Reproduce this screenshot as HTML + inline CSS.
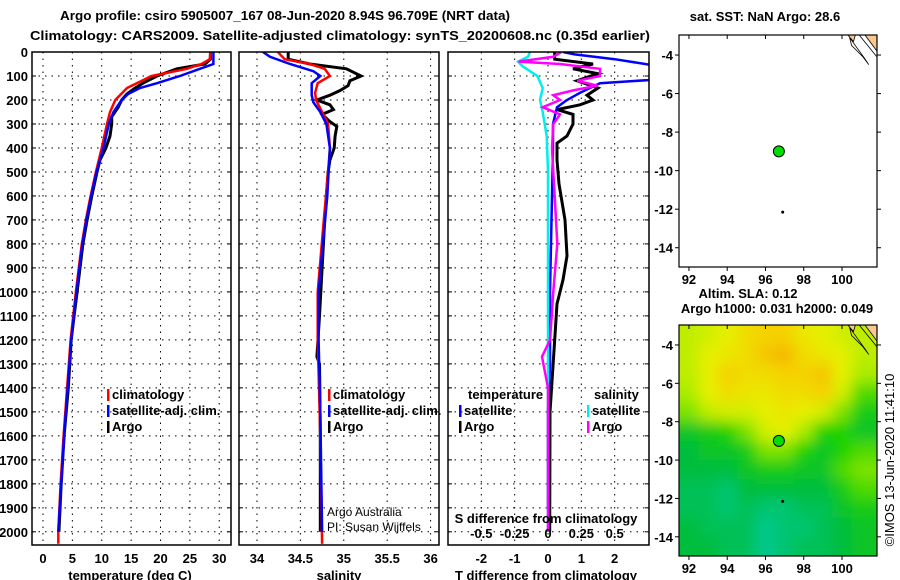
<!DOCTYPE html>
<html><head><meta charset="utf-8"><style>
body{margin:0;background:#fff}
svg{display:block;font-family:"Liberation Sans",sans-serif}
text{font-weight:bold;font-size:13px}
</style></head><body>
<svg id="s" width="900" height="580" viewBox="0 0 900 580" xmlns="http://www.w3.org/2000/svg">
<text x="60" y="20" textLength="450" lengthAdjust="spacingAndGlyphs" font-size="14">Argo profile: csiro 5905007_167 08-Jun-2020 8.94S 96.709E (NRT data)</text>
<text x="30" y="40" textLength="620" lengthAdjust="spacingAndGlyphs" font-size="14">Climatology: CARS2009. Satellite-adjusted climatology: synTS_20200608.nc (0.35d earlier)</text>
<text x="765" y="21" text-anchor="middle">sat. SST: NaN Argo: 28.6</text>
<text x="748" y="298" text-anchor="middle">Altim. SLA: 0.12</text>
<text x="777" y="313" text-anchor="middle">Argo h1000: 0.031 h2000: 0.049</text>
<text transform="translate(894,460) rotate(-90)" text-anchor="middle" style="font-weight:normal">©IMOS 13-Jun-2020 11:41:10</text>
</svg>
<script>
// ---------- data ----------
const depthTicks=[0,100,200,300,400,500,600,700,800,900,1000,1100,1200,1300,1400,1500,1600,1700,1800,1900,2000];
const tempTicks=[0,5,10,15,20,25,30];
const salTicks=[34,34.5,35,35.5,36];
const salTickLabels=["34","34.5","35","35.5","36"];
const tdTicks=[-2,-1,0,1,2];
const sdTicks=[-0.5,-0.25,0,0.25,0.5];
const sdTickLabels=["-0.5","-0.25","0","0.25","0.5"];

const argoTD=[0,30,50,70,100,130,150,175,200,230,270,300,350,400,450,500,600,700,800,900,1000,1100,1200,1400,1600,1800,2000];
const argoT=[28.5,28.5,27.6,22.8,19.4,17,15.7,14.3,13.4,12.8,11.7,11.7,11.4,10.7,9.7,9.2,8.3,7.5,6.8,6.3,5.8,5.3,4.8,4.3,3.6,3.1,2.7];
const climTD=[0,30,50,70,100,150,200,250,300,400,500,600,700,800,900,1000,1200,1400,1600,1800,2000,2050];
const climT=[28.5,28.4,27,24.5,18.5,14.3,12.3,11.4,10.9,10,9,8.1,7.3,6.6,6.1,5.6,4.7,4.1,3.5,3,2.6,2.6];
const satTD=[0,50,70,100,130,150,175,200,250,300,400,500,600,700,800,900,1000,1200,1400,1600,1800,2000];
const satT=[29,29,26.7,23.3,19.4,16.5,14.5,13.4,12,11.2,10.3,9.1,8.2,7.4,6.7,6.2,5.7,4.8,4.2,3.6,3.1,2.6];

const argoSD=[0,30,50,70,100,120,140,160,180,200,220,240,260,290,310,350,400,450,500,700,900,1100,1270,1300,1600,2000];
const argoS=[34.36,34.36,34.61,35.03,35.2,35.07,35.05,34.96,34.84,34.69,34.84,34.88,34.75,34.84,34.92,34.9,34.89,34.84,34.82,34.78,34.75,34.72,34.69,34.72,34.73,34.73];
const climSD=[0,30,50,70,100,130,170,200,250,300,400,500,700,1000,1200,1600,2050];
const climS=[34.24,34.32,34.61,34.78,34.84,34.7,34.67,34.68,34.75,34.82,34.84,34.82,34.77,34.7,34.7,34.73,34.75];
const satSD=[0,20,50,80,100,130,180,210,250,300,400,600,800,1000,1200,1500,2000];
const satS=[34.07,34.15,34.38,34.65,34.73,34.63,34.63,34.65,34.73,34.8,34.84,34.81,34.76,34.71,34.71,34.73,34.75];

const tdArgoD=[0,30,50,70,90,120,150,180,200,220,240,260,300,350,380,450,550,700,850,950,1050,1200,1500,2000];
const tdArgo=[0.2,0.2,1.35,0.75,1.5,0.87,1.5,1.17,1.35,0.96,0.27,0.75,0.75,0.57,0.27,0.27,0.33,0.51,0.57,0.45,0.27,0.2,0.06,0.05];
const tdSatD=[0,10,30,54,70,90,117,130,170,200,230,300,400,600,1000,1300,1500,1900];
const tdSat=[0.45,0.8,2,3.1,4,4,3,1.56,0.96,0.57,0.27,0.15,0.15,0.12,0.06,0.06,0,0];
const sdSatD=[0,20,40,60,100,150,200,250,350,500,1000,2000];
const sdSat=[-0.135,-0.15,-0.225,-0.19,-0.08,-0.04,-0.06,-0.04,-0.01,0,0,0];
const sdArgoD=[0,20,40,50,70,100,120,140,160,180,200,230,260,300,400,500,600,800,1000,1200,1270,1400,2000];
const sdArgo=[0.1,0.04,-0.22,0.09,0.39,0.39,0.22,0.37,0.19,0.04,0.09,-0.04,0.09,0.04,0.03,0.04,0.05,0.07,0.04,0.015,-0.045,0,0];

const mapLonTicks=[92,94,96,98,100];
const mapLatTicks=[-4,-6,-8,-10,-12,-14];
const slaLons=[92,93,94,95,96,97,98,99,100,101];
const slaLats=[-3.5,-4.5,-5.5,-6.5,-7.5,-8.5,-9.5,-10.5,-11.5,-12.5,-13.5,-14.5];
const slaGrid=[
[0.12,0.13,0.14,0.16,0.17,0.17,0.15,0.14,0.13,0.12],
[0.12,0.14,0.15,0.16,0.18,0.19,0.16,0.15,0.14,0.12],
[0.12,0.14,0.17,0.16,0.16,0.17,0.17,0.18,0.14,0.11],
[0.11,0.14,0.16,0.15,0.15,0.16,0.16,0.17,0.13,0.09],
[0.10,0.12,0.13,0.13,0.14,0.15,0.14,0.13,0.10,0.07],
[0.06,0.07,0.08,0.10,0.13,0.14,0.11,0.08,0.08,0.06],
[0.05,0.06,0.06,0.07,0.10,0.10,0.08,0.06,0.08,0.09],
[0.05,0.05,0.05,0.06,0.07,0.07,0.06,0.06,0.09,0.10],
[0.04,0.04,0.03,0.05,0.05,0.05,0.05,0.05,0.07,0.09],
[0.04,0.04,0.03,0.04,0.03,0.03,0.04,0.04,0.06,0.07],
[0.05,0.04,0.04,0.04,0.02,0.03,0.03,0.04,0.05,0.06],
[0.05,0.05,0.04,0.04,0.02,0.03,0.04,0.04,0.05,0.06]];
const floatPos=[96.7,-9];
const prevPos=[96.9,-12.15];

// ---------- drawing ----------
const NS="http://www.w3.org/2000/svg";
const svg=document.getElementById('s');
function el(t,a,p){const e=document.createElementNS(NS,t);for(const k in a)e.setAttribute(k,a[k]);(p||svg).appendChild(e);return e;}
const Y0=52,Y1=545,DMAX=2055;
const yD=d=>Y0+d*(Y1-Y0)/DMAX;
function lin(a,b,p,q){return v=>p+(v-a)*(q-p)/(b-a);}
const panels=[
 {x0:32,x1:231,name:'temperature-panel',x:lin(-1.87,32,32,231)},
 {x0:239,x1:439,name:'salinity-panel',x:lin(33.793,36.097,239,439)},
 {x0:448,x1:649,name:'difference-panel',x:lin(-3,3.03,448,649)}];
const xS2=lin(-0.75,0.7575,448,649);

panels.forEach((P,i)=>{
 const g=el('g',{});
 
 
 const cp=el('clipPath',{id:'c'+i},g);el('rect',{x:P.x0,y:Y0,width:P.x1-P.x0,height:Y1-Y0},cp);
 P.g=g;
 depthTicks.forEach(d=>{if(d>0){const l=el('line',{x1:P.x0,x2:P.x1,y1:yD(d),y2:yD(d),stroke:'#000','stroke-dasharray':'1.5,5'},g);}
  el('line',{x1:P.x0,x2:P.x0+4,y1:yD(d),y2:yD(d),stroke:'#000'},g);el('line',{x1:P.x1,x2:P.x1-4,y1:yD(d),y2:yD(d),stroke:'#000'},g);});
});
function vgrid(P,vals,fx){vals.forEach(v=>{const x=fx(v);const l=el('line',{x1:x,x2:x,y1:Y0,y2:Y1,stroke:'#000','stroke-dasharray':'1.5,5'},P.g);});}
vgrid(panels[0],tempTicks,panels[0].x);vgrid(panels[1],salTicks,panels[1].x);vgrid(panels[2],tdTicks,panels[2].x);
depthTicks.forEach(d=>{const t=el('text',{x:28,y:yD(d)+5,'text-anchor':'end'});t.textContent=d;});
function xlab(vals,labs,fx,y,name){vals.forEach((v,k)=>{const t=el('text',{x:fx(v),y:y,'text-anchor':'middle'});t.textContent=labs?labs[k]:v;});}
xlab(tempTicks,null,panels[0].x,563,'temperature-tick-label');
xlab(salTicks,salTickLabels,panels[1].x,563,'salinity-tick-label');
xlab(tdTicks,null,panels[2].x,563,'t-diff-tick-label');
xlab(sdTicks,sdTickLabels,xS2,538,'s-diff-tick-label');
[['temperature (deg C)',130,'temperature-axis-title'],['salinity',339,'salinity-axis-title'],['T difference from climatology',546,'t-diff-axis-title']].forEach(a=>{const t=el('text',{x:a[1],y:580,'text-anchor':'middle'});t.textContent=a[0];});
{const t=el('text',{x:546,y:523,'text-anchor':'middle'});t.textContent='S difference from climatology';}

function line(P,i,D,V,fx,col,name,w){
 const pts=D.map((d,k)=>fx(V[k]).toFixed(1)+','+yD(d).toFixed(1)).join(' ');
 const l=el('polyline',{points:pts,fill:'none',stroke:col,'stroke-width':w||2.5,'clip-path':'url(#c'+i+')'},P.g);
 }
line(panels[0],0,argoTD,argoT,panels[0].x,'#000','argo-temperature-line',3);
line(panels[0],0,climTD,climT,panels[0].x,'#f00','climatology-temperature-line');
line(panels[0],0,satTD,satT,panels[0].x,'#00f','satellite-temperature-line');
line(panels[1],1,argoSD,argoS,panels[1].x,'#000','argo-salinity-line',3);
line(panels[1],1,climSD,climS,panels[1].x,'#f00','climatology-salinity-line');
line(panels[1],1,satSD,satS,panels[1].x,'#00f','satellite-salinity-line');
line(panels[2],2,tdArgoD,tdArgo,panels[2].x,'#000','argo-t-diff-line',3);
line(panels[2],2,tdSatD,tdSat,panels[2].x,'#00f','satellite-t-diff-line');
line(panels[2],2,sdSatD,sdSat,xS2,'#0ee','satellite-s-diff-line');
line(panels[2],2,sdArgoD,sdArgo,xS2,'#f0f','argo-s-diff-line');
panels.forEach(P=>{const r=el('rect',{x:P.x0,y:Y0,width:P.x1-P.x0,height:Y1-Y0,fill:'none',stroke:'#000','stroke-width':1.5},P.g);});

function leg(x,y,col,txt,name){const r=el('rect',{x:x,y:y-10,width:2.5,height:12,fill:col});const t=el('text',{x:x+5,y:y});t.textContent=txt;}
[[107,'#f00','climatology'],[107,'#00f','satellite-adj. clim.'],[107,'#000','Argo']].forEach((a,k)=>leg(a[0],399+k*16,a[1],a[2],'temp-legend-entry'));
[[328,'#f00','climatology'],[328,'#00f','satellite-adj. clim.'],[328,'#000','Argo']].forEach((a,k)=>leg(a[0],399+k*16,a[1],a[2],'sal-legend-entry'));
{const t=el('text',{x:468,y:399});t.textContent='temperature';
 const u=el('text',{x:594,y:399});u.textContent='salinity';}
leg(459,415,'#00f','satellite','tdiff-legend-entry');leg(459,431,'#000','Argo','tdiff-legend-entry');
leg(587,415,'#0ee','satellite','sdiff-legend-entry');leg(587,431,'#f0f','Argo','sdiff-legend-entry');
{const a=el('text',{x:327,y:516,style:'font-weight:normal;font-size:12px'});a.textContent='Argo Australia';
 const b=el('text',{x:327,y:531,style:'font-weight:normal;font-size:12px'});b.textContent='PI: Susan Wijffels';}

const MX0=679,MX1=877,LON0=91.48,LON1=101.83;
const mlx=lin(LON0,LON1,MX0,MX1);
function slaColor(v){const s=[[0.02,[0,200,140]],[0.05,[0,190,60]],[0.08,[30,210,0]],[0.11,[170,235,0]],[0.14,[230,240,0]],[0.17,[245,210,0]],[0.2,[245,170,0]]];
 if(v<=s[0][0])return 'rgb('+s[0][1]+')';for(let i=1;i<s.length;i++)if(v<=s[i][0]){const f=(v-s[i-1][0])/(s[i][0]-s[i-1][0]);return 'rgb('+s[i][1].map((c,k)=>Math.round(s[i-1][1][k]+f*(c-s[i-1][1][k]))).join(',')+')';}return 'rgb('+s[6][1]+')';}
const defs=el('defs',{});const f=el('filter',{id:'blur',x:'-5%',y:'-5%',width:'110%',height:'110%'},defs);el('feGaussianBlur',{stdDeviation:7},f);
function map(Y0m,Y1m,withSla,name){
 const my=lin(-2.96,-15,Y0m,Y1m);
 const g=el('g',{});
 const cp=el('clipPath',{id:'cp'+name},g);el('rect',{x:MX0,y:Y0m,width:MX1-MX0,height:Y1m-Y0m},cp);
 if(withSla){const cg=el('g',{'clip-path':'url(#cp'+name+')'},g);const bg=el('g',{filter:'url(#blur)'},cg);
  slaLats.forEach((la,r)=>slaLons.forEach((lo,c)=>{const x=mlx(lo-0.5),x2=mlx(lo+0.5)+(c==slaLons.length-1?20:0),y=my(la+0.5)-(r==0?20:0),y2=my(la-0.5)+(r==slaLats.length-1?20:0);
   const cell=el('rect',{x:x-(c==0?20:0),y:y,width:x2-x+(c==0?20:0)+0.5,height:y2-y+0.5,fill:slaColor(slaGrid[r][c])},bg);
   }));}
 const cg2=el('g',{'clip-path':'url(#cp'+name+')'},g);
 const land=el('path',{d:`M${mlx(100.3)},${my(-2.96)} L${mlx(100.6)},${my(-3.3)} L${mlx(100.7)},${my(-2.96)}Z M${mlx(101.2)},${my(-2.96)} L${mlx(101.83)},${my(-3.8)} L${mlx(101.83)},${my(-2.96)}Z`,fill:'#f8c890',stroke:'#000','stroke-width':0.8},cg2);
 
 const isl=el('path',{d:`M${mlx(100.4)},${my(-3.1)} L${mlx(101.2)},${my(-4.2)} L${mlx(101.4)},${my(-4.5)} L${mlx(101.1)},${my(-4.1)} L${mlx(100.5)},${my(-3.5)}Z M${mlx(100.9)},${my(-2.96)} L${mlx(101.83)},${my(-4.1)}`,fill:'none',stroke:'#000','stroke-width':0.8},cg2);
 
 const c=el('circle',{cx:mlx(floatPos[0]),cy:my(floatPos[1]),r:5.5,fill:'#0d0',stroke:'#000','stroke-width':1},g);
 const p=el('circle',{cx:mlx(prevPos[0]),cy:my(prevPos[1]),r:1.5,fill:'#000'},g);
 const fr=el('rect',{x:MX0,y:Y0m,width:MX1-MX0,height:Y1m-Y0m,fill:'none',stroke:'#000','stroke-width':1.2},g);
 mapLonTicks.forEach(v=>{const x=mlx(v);el('line',{x1:x,x2:x,y1:Y0m,y2:Y0m+4,stroke:'#000'},g);el('line',{x1:x,x2:x,y1:Y1m,y2:Y1m+4,stroke:'#000'},g);
  const t=el('text',{x:x,y:Y1m+17,'text-anchor':'middle'},g);t.textContent=v;});
 mapLatTicks.forEach(v=>{const y=my(v);el('line',{x1:MX0-4,x2:MX0,y1:y,y2:y,stroke:'#000'},g);el('line',{x1:MX1,x2:MX1+4,y1:y,y2:y,stroke:'#000'},g);
  const t=el('text',{x:MX0-6,y:y+5,'text-anchor':'end'},g);t.textContent=v;});
}
map(35,267,false,'sst-map');
map(325,556,true,'sla-map');
</script>
</body></html>
